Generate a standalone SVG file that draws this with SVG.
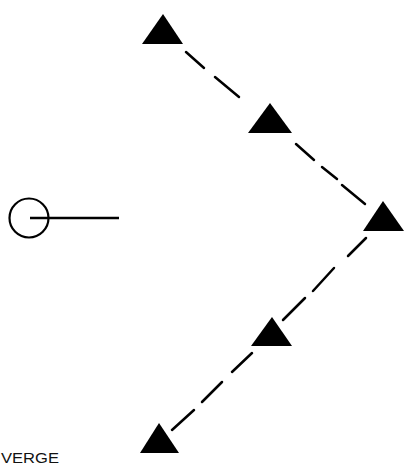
<svg xmlns="http://www.w3.org/2000/svg" width="409" height="465" viewBox="0 0 409 465">
<style>
.tri{fill:#000}
.dash{stroke:#000;stroke-width:2.5;stroke-linecap:round;fill:none}
.lbl{font-family:"Liberation Sans Narrow","Liberation Sans",Arial,sans-serif;font-size:15px;fill:#111}
</style>
<rect width="409" height="465" fill="#fff"/>
<g id="connectors">
<line class="dash" x1="186" y1="52" x2="204" y2="68"/>
<line class="dash" x1="215" y1="77" x2="239" y2="97"/>
<line class="dash" x1="296" y1="144" x2="314" y2="160"/>
<line class="dash" x1="322" y1="167" x2="337" y2="179"/>
<line class="dash" x1="342" y1="185" x2="365" y2="204"/>
<line class="dash" x1="366" y1="238" x2="348" y2="256"/>
<line class="dash" x1="334" y1="268" x2="313" y2="291"/>
<line class="dash" x1="305" y1="298" x2="283" y2="320"/>
<line class="dash" x1="252" y1="353" x2="232" y2="372"/>
<line class="dash" x1="222" y1="382" x2="202" y2="402"/>
<line class="dash" x1="194" y1="410" x2="172" y2="430"/>
</g>
<g id="origin">
<circle cx="29" cy="218" r="19.5" fill="none" stroke="#000" stroke-width="2.2"/>
<line x1="30" y1="218" x2="119" y2="218" stroke="#000" stroke-width="2.4"/>
</g>
<g id="t1"><polygon class="tri" points="163,14 183,44 142,44"/></g>
<g id="t2"><polygon class="tri" points="270,103 292,133 248,133"/></g>
<g id="t3"><polygon class="tri" points="383,201 404,231 363,231"/></g>
<g id="t4"><polygon class="tri" points="272,317 292,346 251,346"/></g>
<g id="t5"><polygon class="tri" points="159,423 179,453 140,453"/></g>
<g id="label"><text class="lbl" x="1" y="463" textLength="58" lengthAdjust="spacingAndGlyphs">VERGE</text></g>
</svg>
